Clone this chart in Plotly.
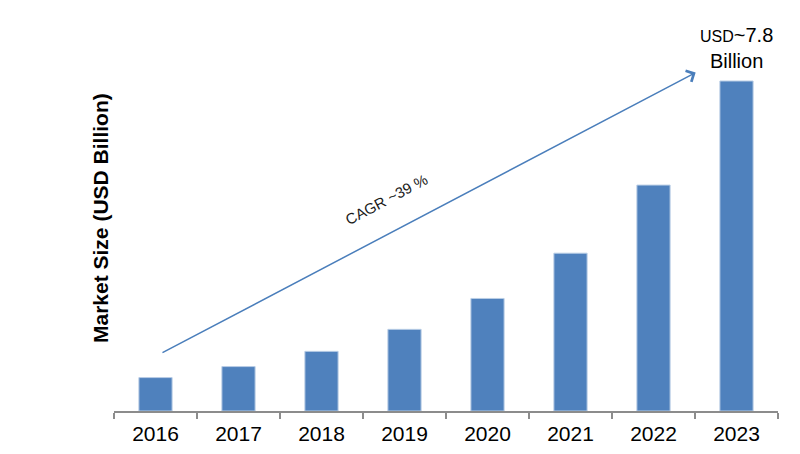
import plotly.graph_objects as go

years = ["2016", "2017", "2018", "2019", "2020", "2021", "2022", "2023"]
market_size = [0.79, 1.05, 1.41, 1.93, 2.66, 3.73, 5.34, 7.8]

y_title = "Market Size (USD Billion)"
cagr_text = "CAGR ~39 %"
top_label = "<span style='font-size:16px'>USD</span>~7.8<br>Billion"

# arrow endpoints (category index, value units)
arrow_tail = (0.066, 1.36)
arrow_tip = (6.508, 8.0)

fig = go.Figure()
fig.add_trace(go.Bar(
    x=years, y=market_size,
    marker=dict(color="#4f81bd", line=dict(color="#b9cde5", width=1)),
))

fig.add_annotation(
    x=arrow_tip[0], y=arrow_tip[1], ax=arrow_tail[0], ay=arrow_tail[1],
    xref="x", yref="y", axref="x", ayref="y",
    text="", showarrow=True, arrowhead=4, arrowsize=1.6, arrowwidth=1.5,
    arrowcolor="#4a7ebb", standoff=0, startstandoff=0,
)
fig.add_annotation(
    x=2.777, y=5.01, xref="x", yref="y", text=cagr_text, showarrow=False,
    textangle=-28, font=dict(size=15, color="#1a1a1a"),
)
fig.add_annotation(
    x=7, y=8.58, xref="x", yref="y", text=top_label, showarrow=False,
    font=dict(size=20, color="#000000"), yanchor="middle", align="center",
)
fig.add_annotation(
    x=(100 - 114) / 664, y=(411 - 218) / 391, xref="paper", yref="paper",
    text="<b>" + y_title + "</b>", showarrow=False, textangle=-90,
    font=dict(size=21, color="#000000"), xanchor="center", yanchor="middle",
)

fig.update_layout(
    width=800, height=454,
    margin=dict(l=106, r=30, t=12, b=51),
    paper_bgcolor="white", plot_bgcolor="white",
    bargap=0.6, showlegend=False,
    font=dict(family="Liberation Sans, Arial, sans-serif", color="#000000"),
)
fig.update_xaxes(
    type="category", showline=True, linecolor="#8c8c8c", linewidth=1.5,
    ticks="outside", tickson="boundaries", ticklen=6, tickcolor="#8c8c8c",
    tickwidth=1.5, tickfont=dict(size=21, color="#000000"), showgrid=False,
    ticklabelstandoff=3,
)
fig.update_yaxes(visible=False, range=[0, 9.242], showgrid=False)

fig.write_html("out.html")
